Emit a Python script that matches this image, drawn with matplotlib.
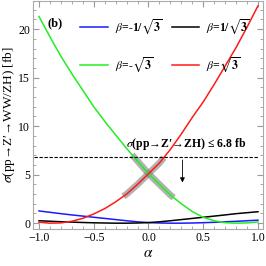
import matplotlib
matplotlib.use('Agg')
import matplotlib.pyplot as plt
from matplotlib.ticker import MultipleLocator
import numpy as np

# data
alpha = [-1.0, -0.9, -0.8, -0.7, -0.6, -0.5, -0.4, -0.3, -0.2, -0.1, 0.0,
         0.1, 0.2, 0.3, 0.4, 0.5, 0.6, 0.7, 0.8, 0.9, 1.0]
blue = [1.26, 1.12, 0.98, 0.85, 0.73, 0.61, 0.49, 0.37, 0.25, 0.14, 0.06,
        0.02, 0.0, 0.0, 0.02, 0.05, 0.09, 0.14, 0.19, 0.25, 0.31]
black = [0.25, 0.2, 0.15, 0.11, 0.07, 0.04, 0.02, 0.0, 0.0, 0.02, 0.06,
         0.14, 0.25, 0.37, 0.49, 0.61, 0.73, 0.85, 0.98, 1.08, 1.18]
green = [21.3, 19.2, 17.2, 15.4, 13.7, 12.0, 10.5, 9.1, 7.7, 6.4, 5.1,
         4.0, 2.9, 2.0, 1.2, 0.6, 0.25, 0.05, 0.0, 0.03, 0.12]
red = [0.1, 0.0, 0.03, 0.2, 0.5, 0.95, 1.5, 2.2, 3.0, 4.0, 5.1,
       6.2, 7.6, 9.2, 10.9, 12.5, 14.3, 16.2, 18.1, 20.2, 22.4]
labels = [r'$\beta$=-1/$\sqrt{\mathbf{3}}$', r'$\beta$=1/$\sqrt{\mathbf{3}}$',
          r'$\beta$=-$\sqrt{\mathbf{3}}$', r'$\beta$=$\sqrt{\mathbf{3}}$']
limit = 6.8
green_ok = (-0.15, 0.23)
red_ok = (-0.23, 0.14)

plt.rcParams['font.family'] = ['Liberation Serif', 'DejaVu Serif']
plt.rcParams['mathtext.fontset'] = 'stix'

fig = plt.figure(figsize=(2.66, 2.66), dpi=100)
ax = fig.add_axes([33/266, 37/266, 230/266, 228/266])

def band(y, lo, hi):
    # piece of a curve between lo and hi
    x2 = [lo] + [a for a in alpha if lo < a < hi] + [hi]
    return x2, list(np.interp(x2, alpha, y))

gx, gy = band(green, *green_ok)
rx, ry = band(red, *red_ok)
ax.plot(gx, gy, color='gray', lw=4.8, alpha=0.6, solid_capstyle='butt', zorder=1)
ax.plot(rx, ry, color='gray', lw=4.8, alpha=0.6, solid_capstyle='butt', zorder=1)

h1, = ax.plot(alpha, blue, color='#1a1aff', lw=1.1)
h2, = ax.plot(alpha, black, color='black', lw=1.1)
h3, = ax.plot(alpha, green, color='#22ee22', lw=1.1)
h4, = ax.plot(alpha, red, color='#ff1a1a', lw=1.1)

ax.axhline(limit, xmin=0.005, xmax=0.98, color='black', ls=(0, (3, 1.5)), lw=0.8)
ax.annotate('', xy=(0.31, 3.9), xytext=(0.31, limit),
            arrowprops=dict(arrowstyle='-|>', color='black', lw=0.6,
                            mutation_scale=7))
ax.text(0.34, 7.3, '$\\sigma$(pp\u2192Z\u2032\u2192ZH) \u2264 6.8 fb',
        fontsize=8.5, fontweight='bold', ha='center', va='bottom')
ax.text(-0.92, 20.3, '(b)', fontsize=9, fontweight='bold')

leg = ax.legend([h1, h3, h2, h4], [labels[0], labels[2], labels[1], labels[3]],
                ncol=2, loc='upper center',
                bbox_to_anchor=(0.575, 0.975), frameon=False,
                handlelength=2.3, columnspacing=0.8, labelspacing=1.6,
                handletextpad=0.6, prop={'weight': 'bold', 'size': 8.5})

ax.set_xlim(-1.055, 1.046)
ax.set_ylim(-0.6, 22.9)
ax.xaxis.set_major_locator(MultipleLocator(0.5))
ax.xaxis.set_minor_locator(MultipleLocator(0.1))
ax.yaxis.set_major_locator(MultipleLocator(5))
ax.yaxis.set_minor_locator(MultipleLocator(1))
ax.tick_params(which='both', direction='in', color='#999999', top=True, right=True,
               labeltop=False, labelright=False, labelsize=8.5, pad=2)
ax.tick_params(which='major', length=4)
ax.tick_params(which='minor', length=2)
ax.xaxis.set_major_formatter(plt.FuncFormatter(lambda v, p: ('%.1f' % v).replace('-', '\u2212')))
for s in ax.spines.values():
    s.set_color('#aaaaaa')
ax.set_xlabel(r'$\alpha$', fontsize=11, labelpad=2)
ax.set_ylabel('$\\sigma$(pp\u2192Z\u2032\u2192WW/ZH) [fb]', fontsize=9.5, labelpad=1)

fig.savefig('out.png', dpi=100)
